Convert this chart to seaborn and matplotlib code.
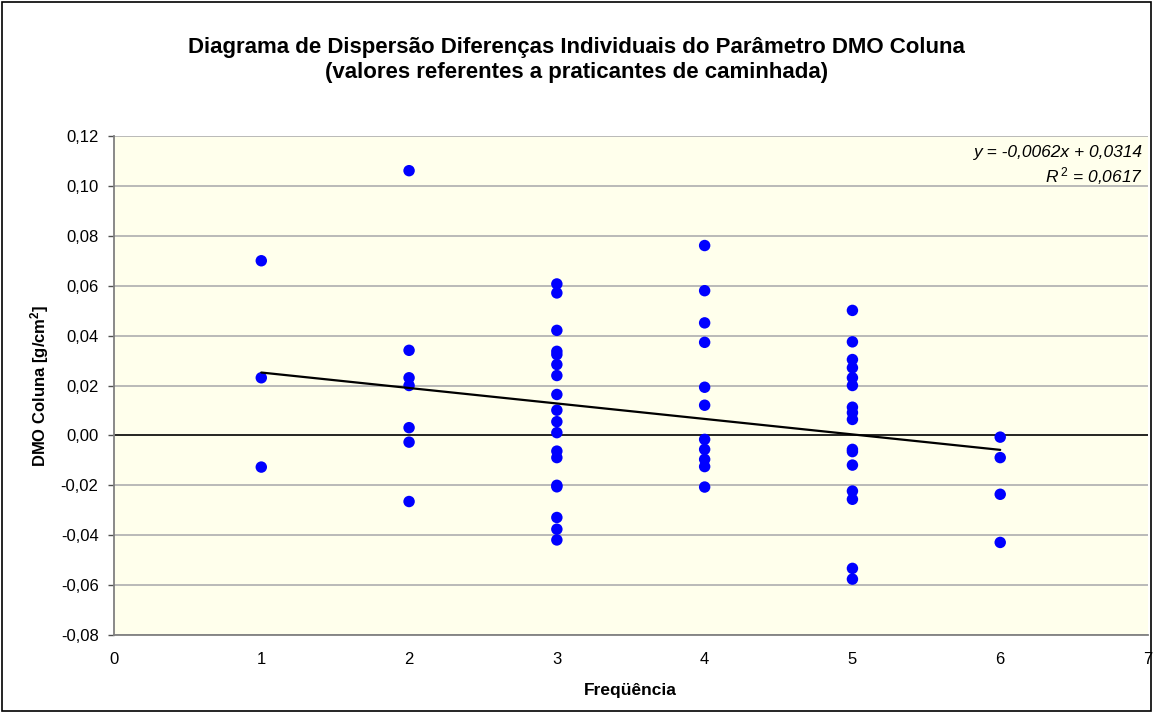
import numpy as np
import pandas as pd
import matplotlib
matplotlib.use("Agg")
import matplotlib.pyplot as plt
import seaborn as sns

# ---- data ----
freq_1 = [0.0700, 0.0231, -0.0127]
freq_2 = [0.1061, 0.0341, 0.0231, 0.0200, 0.0031, -0.0027, -0.0265]
freq_3 = [0.0607, 0.0571, 0.0421, 0.0337, 0.0324, 0.0284, 0.0240, 0.0164, 0.0101,
          0.0055, 0.0011, -0.0063, -0.0089, -0.0200, -0.0206, -0.0329, -0.0376, -0.0419]
freq_4 = [0.0761, 0.0580, 0.0451, 0.0373, 0.0193, 0.0121, -0.0016, -0.0056,
          -0.0096, -0.0125, -0.0207]
freq_5 = [0.0501, 0.0375, 0.0304, 0.0271, 0.0231, 0.0200, 0.0113, 0.0091, 0.0064,
          -0.0056, -0.0065, -0.0119, -0.0223, -0.0256, -0.0533, -0.0576]
freq_6 = [-0.0007, -0.0089, -0.0236, -0.0429]
trend_slope = -0.0062
trend_intercept = 0.0314
trend_x = [1, 6]
equation_text = "y = -0,0062x + 0,0314"
r2_text = "$R^{\\,2}$ = 0,0617"
title = ("Diagrama de Dispersão Diferenças Individuais do Parâmetro DMO Coluna\n"
         "(valores referentes a praticantes de caminhada)")
x_label = "Freqüência"
y_label = "DMO Coluna [g/cm$^\\mathbf{2}$]"
y_ticks = [-0.08, -0.06, -0.04, -0.02, 0.00, 0.02, 0.04, 0.06, 0.08, 0.10, 0.12]
x_ticks = [0, 1, 2, 3, 4, 5, 6, 7]

groups = [freq_1, freq_2, freq_3, freq_4, freq_5, freq_6]
df = pd.DataFrame({
    "freq": np.concatenate([[i + 1] * len(g) for i, g in enumerate(groups)]),
    "dmo": np.concatenate(groups),
})
trend_df = pd.DataFrame({"x": trend_x,
                         "y": [trend_slope * v + trend_intercept for v in trend_x]})

sns.set_theme(style="white")
plt.rcParams['font.family'] = ['Liberation Sans', 'DejaVu Sans']
plt.rcParams['mathtext.fontset'] = 'custom'
plt.rcParams['mathtext.rm'] = 'Liberation Sans'
plt.rcParams['mathtext.it'] = 'Liberation Sans:italic'
plt.rcParams['mathtext.bf'] = 'Liberation Sans:bold'
for k in ['text.color', 'axes.labelcolor', 'xtick.color', 'ytick.color']:
    plt.rcParams[k] = 'black'

W, H, DPI = 1153, 713, 100
L, R, T, B = 113.5, 1148, 136, 635
fig = plt.figure(figsize=(W / DPI, H / DPI), dpi=DPI)
fig.patch.set_facecolor("white")
ax = fig.add_axes([L / W, 1 - B / H, (R - L) / W, (B - T) / H])
ax.set_facecolor("#FFFFEC")

ax.set_xlim(0, 7)
ax.set_ylim(-0.08, 0.12)
ax.set_yticks(y_ticks)
ax.set_xticks(x_ticks)
for yv in y_ticks:
    if abs(yv) > 1e-9:
        ax.axhline(yv, color="#B4B4B4", lw=1.3, zorder=0)
ax.axhline(0, color="black", lw=1.2, zorder=1)

sns.scatterplot(data=df, x="freq", y="dmo", ax=ax, color="#0000FF", s=68,
                edgecolor="none", linewidth=0, zorder=3, legend=False)
sns.lineplot(data=trend_df, x="x", y="y", ax=ax, color="black", lw=1.6, zorder=4)

ax.set_yticklabels([f"{v:.2f}".replace(".", ",") for v in y_ticks], fontsize=12)
ax.set_xticklabels([str(v) for v in x_ticks], fontsize=12)
ax.tick_params(axis="y", direction="out", length=4.3, width=1, color="#505050",
               left=True, pad=6.5)
ax.tick_params(axis="x", direction="out", length=0, bottom=True, pad=12)
for side in ["top", "right"]:
    ax.spines[side].set_visible(False)
for side in ["left", "bottom"]:
    ax.spines[side].set_color("#808080")
    ax.spines[side].set_linewidth(1.3)

ax.set_xlabel(x_label, fontsize=12.5, fontweight="bold", labelpad=12)
ax.set_ylabel(y_label, fontsize=12, fontweight="bold", labelpad=7)

ax.text(1 - 5 / (R - L), 1 - (153 - T) / (B - T), equation_text,
        transform=ax.transAxes, ha="right", va="center",
        fontsize=12.5, style="italic")
ax.text(1 - 5 / (R - L), 1 - (176 - T) / (B - T), r2_text,
        transform=ax.transAxes, ha="right", va="center",
        fontsize=12.5, style="italic")

fig.text(0.5, 1 - 60 / H, title, ha="center", va="center", fontsize=16,
         fontweight="bold", linespacing=1.2)

border = plt.Rectangle((2 / W, 2 / H), (W - 4) / W, (H - 4) / H,
                       transform=fig.transFigure, fill=False,
                       edgecolor="black", lw=1.2)
fig.patches.append(border)

fig.savefig("out.png", dpi=DPI)
